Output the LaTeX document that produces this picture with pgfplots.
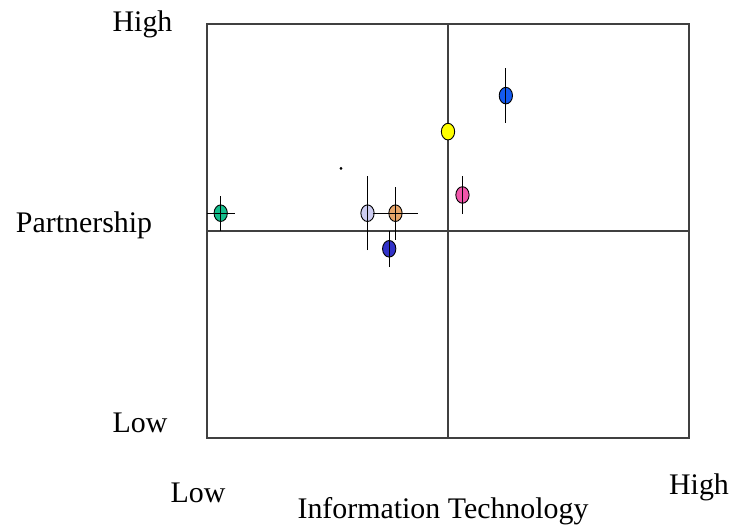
\documentclass[border=0pt]{standalone}
\usepackage{pgfplots}
\pgfplotsset{compat=1.18}
\usepackage{fontspec}
\setmainfont{Liberation Serif}
\definecolor{cgreen}{RGB}{20,190,140}
\definecolor{clav}{RGB}{205,205,242}
\definecolor{cpeach}{RGB}{232,165,105}
\definecolor{cdblue}{RGB}{50,50,200}
\definecolor{cyel}{RGB}{255,255,0}
\definecolor{cpink}{RGB}{240,85,170}
\definecolor{cblue}{RGB}{20,90,240}
\definecolor{axgray}{RGB}{64,64,64}
\begin{document}
\begin{tikzpicture}[x=1bp,y=1bp]
\path[use as bounding box] (0,0) rectangle (732,531);
\begin{axis}[
  at={(207bp,93bp)}, anchor=south west,
  scale only axis, width=482bp, height=414bp,
  xmin=0, xmax=10, ymin=0, ymax=10,
  xtick=\empty, ytick=\empty,
  axis line style={axgray, line width=1.3pt},
  clip=true, clip mode=individual,
  pt/.style={only marks, mark=*, mark size=8.3bp, mark options={xscale=0.8, draw=black, line width=0.9pt, fill=#1}},
  bar/.style={black, line width=1.1pt, mark=none},
]
\addplot[axgray, line width=1.1pt, mark=none] coordinates {(5,0) (5,10)};
\addplot[axgray, line width=1.1pt, mark=none] coordinates {(0,5) (10,5)};
% markers
\addplot[pt=cgreen] coordinates {(0.284,5.43)};
\addplot[pt=clav] coordinates {(3.33,5.43)};
\addplot[pt=cpeach] coordinates {(3.91,5.43)};
\addplot[pt=cdblue] coordinates {(3.78,4.57)};
\addplot[pt=cyel] coordinates {(5.0,7.40)};
\addplot[pt=cpink] coordinates {(5.30,5.87)};
\addplot[pt=cblue] coordinates {(6.20,8.27)};
\addplot[only marks, mark=*, mark size=1.2bp, black] coordinates {(2.78,6.51)};
% error bars drawn over the markers
\addplot[bar] coordinates {(0.284,5.01) (0.284,5.85)};
\addplot[bar] coordinates {(-0.006,5.43) (0.574,5.43)};
\addplot[bar] coordinates {(3.33,4.54) (3.33,6.32)};
\addplot[bar] coordinates {(3.91,4.79) (3.91,6.07)};
\addplot[bar] coordinates {(3.44,5.43) (4.38,5.43)};
\addplot[bar] coordinates {(3.78,4.13) (3.78,5.01)};
\addplot[bar] coordinates {(5.30,5.41) (5.30,6.33)};
\addplot[bar] coordinates {(6.20,7.61) (6.20,8.93)};
\end{axis}
\begin{scope}[every node/.style={inner sep=0pt, anchor=base, font=\fontsize{30}{36}\selectfont}]
\node at (142.5,499) {High};
\node at (84,298.7) {Partnership};
\node at (140,98.7) {Low};
\node at (198,28.7) {Low};
\node at (443,12.7) {Information Technology};
\node at (699,36.7) {High};
\end{scope}
\end{tikzpicture}
\end{document}
